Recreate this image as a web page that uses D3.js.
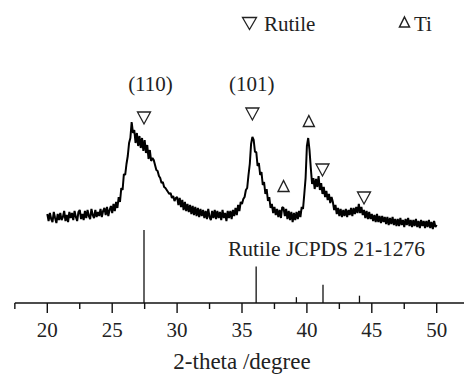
<!DOCTYPE html>
<html>
<head>
<meta charset="utf-8">
<script src="https://cdn.jsdelivr.net/npm/d3@7"></script>
<style>
    html, body { margin: 0; padding: 0; background: #fff; }
    svg { display: block; font-family: "Liberation Serif", "Times New Roman", serif; }
</style>
</head>
<body>
<svg id="chart" width="464" height="375"></svg>
<script>
// XRD pattern, 20.0 -> 50.0 deg in 0.1 deg steps (intensity, arb. units)
const thetaStart = 20, thetaStep = 0.1;
const intensity = [
    14, 7, 15, 9, 6, 16, 10, 5, 14, 8,
    15, 8, 11, 17, 7, 13, 6, 16, 10, 15,
    8, 17, 11, 7, 16, 18, 9, 14, 8, 17,
    10, 18, 12, 9, 19, 13, 10, 18, 11, 16,
    12, 19, 11, 17, 20, 13, 21, 12, 18, 22,
    15, 24, 17, 26, 20, 31, 26, 40, 38, 54,
    53, 64, 72, 85, 90, 106, 95, 98, 85, 95,
    82, 92, 80, 90, 77, 88, 75, 83, 69, 78,
    67, 70, 68, 63, 58, 57, 52, 50, 45, 46,
    41, 40, 38, 36, 34, 35, 30, 32, 27, 30,
    31, 23, 30, 21, 28, 18, 26, 17, 24, 16,
    23, 14, 22, 13, 21, 12, 20, 11, 19, 12,
    18, 10, 17, 9, 19, 11, 8, 17, 10, 18,
    9, 17, 10, 16, 8, 18, 10, 15, 7, 17,
    10, 17, 9, 18, 12, 20, 13, 23, 17, 26,
    24, 29, 31, 38, 40, 53, 64, 84, 91, 88,
    76, 76, 62, 65, 53, 56, 43, 46, 34, 39,
    27, 31, 20, 24, 15, 21, 13, 19, 11, 18,
    10, 21, 20, 12, 19, 9, 17, 8, 16, 6,
    15, 8, 16, 9, 17, 11, 21, 19, 34, 50,
    82, 90, 78, 60, 44, 50, 39, 49, 41, 52,
    38, 45, 34, 41, 31, 37, 28, 34, 25, 31,
    26, 18, 23, 14, 20, 12, 19, 11, 18, 12,
    19, 11, 18, 13, 20, 12, 20, 14, 21, 15,
    24, 15, 21, 13, 18, 10, 17, 9, 16, 9,
    14, 7, 13, 6, 14, 6, 12, 5, 12, 6,
    11, 4, 11, 3, 10, 4, 11, 3, 9, 2,
    9, 2, 10, 3, 8, 1, 9, 3, 10, 2,
    8, 1, 8, 2, 9, 1, 7, 0, 8, 2,
    7, 0, 7, 1, 8, 0, 6, -1, 7, 1,
    3
];

// reference pattern: Rutile JCPDS 21-1276
const refTheta = [27.45, 36.09, 39.19, 41.24, 44.05];
const refIntensity = [100, 50, 8, 25, 10];

// phase markers (2-theta, intensity where the marker sits)
const rutileMarks = [[27.45, 110], [35.8, 114], [41.2, 58], [44.4, 30]];
const tiMarks = [[40.15, 107], [38.2, 42]];
const planeLabels = [[27.95, "(110)"], [35.75, "(101)"]];

const majorTicks = [20, 25, 30, 35, 40, 45, 50];
const minorTicks = [17.5, 22.5, 27.5, 32.5, 37.5, 42.5, 47.5, 52.5];

const svg = d3.select("#chart");

const x = d3.scaleLinear().domain([20, 50]).range([47.3, 436.7]);
const y = d3.scaleLinear().domain([0, 110]).range([228, 118]);
const yRef = d3.scaleLinear().domain([0, 100]).range([303, 230]);

// measured pattern
const pattern = intensity.map((v, i) => [thetaStart + i * thetaStep, v]);
svg.append("path")
    .datum(pattern)
    .attr("fill", "none")
    .attr("stroke", "#000")
    .attr("stroke-width", 2)
    .attr("stroke-linejoin", "bevel")
    .attr("d", d3.line().x(d => x(d[0])).y(d => y(d[1])));

// reference sticks
svg.append("g")
    .selectAll("line")
    .data(refTheta.map((t, i) => [t, refIntensity[i]]))
    .join("line")
    .attr("x1", d => x(d[0])).attr("x2", d => x(d[0]))
    .attr("y1", yRef(0)).attr("y2", d => yRef(d[1]))
    .attr("stroke", "#111")
    .attr("stroke-width", 1.3);

svg.append("text")
    .attr("x", 228).attr("y", 256)
    .attr("font-size", 21.5)
    .attr("fill", "#222")
    .text("Rutile JCPDS 21-1276");

// x axis: line, major and minor ticks
const axisG = svg.append("g");
axisG.append("line")
    .attr("x1", x(17.5)).attr("x2", x(52.5))
    .attr("y1", 303).attr("y2", 303)
    .attr("stroke", "#111").attr("stroke-width", 1.4);
axisG.selectAll(".major")
    .data(majorTicks)
    .join("line")
    .attr("class", "major")
    .attr("x1", d => x(d)).attr("x2", d => x(d))
    .attr("y1", 303).attr("y2", 313)
    .attr("stroke", "#111").attr("stroke-width", 1.4);
axisG.selectAll(".minor")
    .data(minorTicks)
    .join("line")
    .attr("class", "minor")
    .attr("x1", d => x(d)).attr("x2", d => x(d))
    .attr("y1", 303).attr("y2", 309)
    .attr("stroke", "#111").attr("stroke-width", 1.4);
axisG.selectAll("text")
    .data(majorTicks)
    .join("text")
    .attr("x", d => x(d)).attr("y", 337)
    .attr("text-anchor", "middle")
    .attr("font-size", 21)
    .attr("fill", "#222")
    .text(d => d);

svg.append("text")
    .attr("x", x(35)).attr("y", 369)
    .attr("text-anchor", "middle")
    .attr("font-size", 23)
    .attr("fill", "#222")
    .text("2-theta /degree");

// triangle markers
const down = (w, h) => `M${-w / 2},${-h / 2}L${w / 2},${-h / 2}L0,${h / 2}Z`;
const up = (w, h) => `M0,${-h / 2}L${w / 2},${h / 2}L${-w / 2},${h / 2}Z`;

svg.append("g")
    .selectAll("path")
    .data(rutileMarks)
    .join("path")
    .attr("transform", d => `translate(${x(d[0])},${y(d[1])})`)
    .attr("d", down(13, 12))
    .attr("fill", "none").attr("stroke", "#222").attr("stroke-width", 1.3);

svg.append("g")
    .selectAll("path")
    .data(tiMarks)
    .join("path")
    .attr("transform", d => `translate(${x(d[0])},${y(d[1])})`)
    .attr("d", up(11, 11))
    .attr("fill", "none").attr("stroke", "#222").attr("stroke-width", 1.4);

svg.append("g")
    .selectAll("text")
    .data(planeLabels)
    .join("text")
    .attr("x", d => x(d[0])).attr("y", 91)
    .attr("text-anchor", "middle")
    .attr("font-size", 21)
    .attr("fill", "#222")
    .text(d => d[1]);

// legend
svg.append("path")
    .attr("transform", "translate(249.5,23.5)")
    .attr("d", down(14, 12))
    .attr("fill", "none").attr("stroke", "#222").attr("stroke-width", 1.3);
svg.append("text")
    .attr("x", 264).attr("y", 31)
    .attr("font-size", 21)
    .attr("fill", "#222")
    .text("Rutile");
svg.append("path")
    .attr("transform", "translate(404.5,22)")
    .attr("d", up(10, 10))
    .attr("fill", "none").attr("stroke", "#222").attr("stroke-width", 1.5);
svg.append("text")
    .attr("x", 414).attr("y", 31)
    .attr("font-size", 21)
    .attr("fill", "#222")
    .text("Ti");
</script>
</body>
</html>
